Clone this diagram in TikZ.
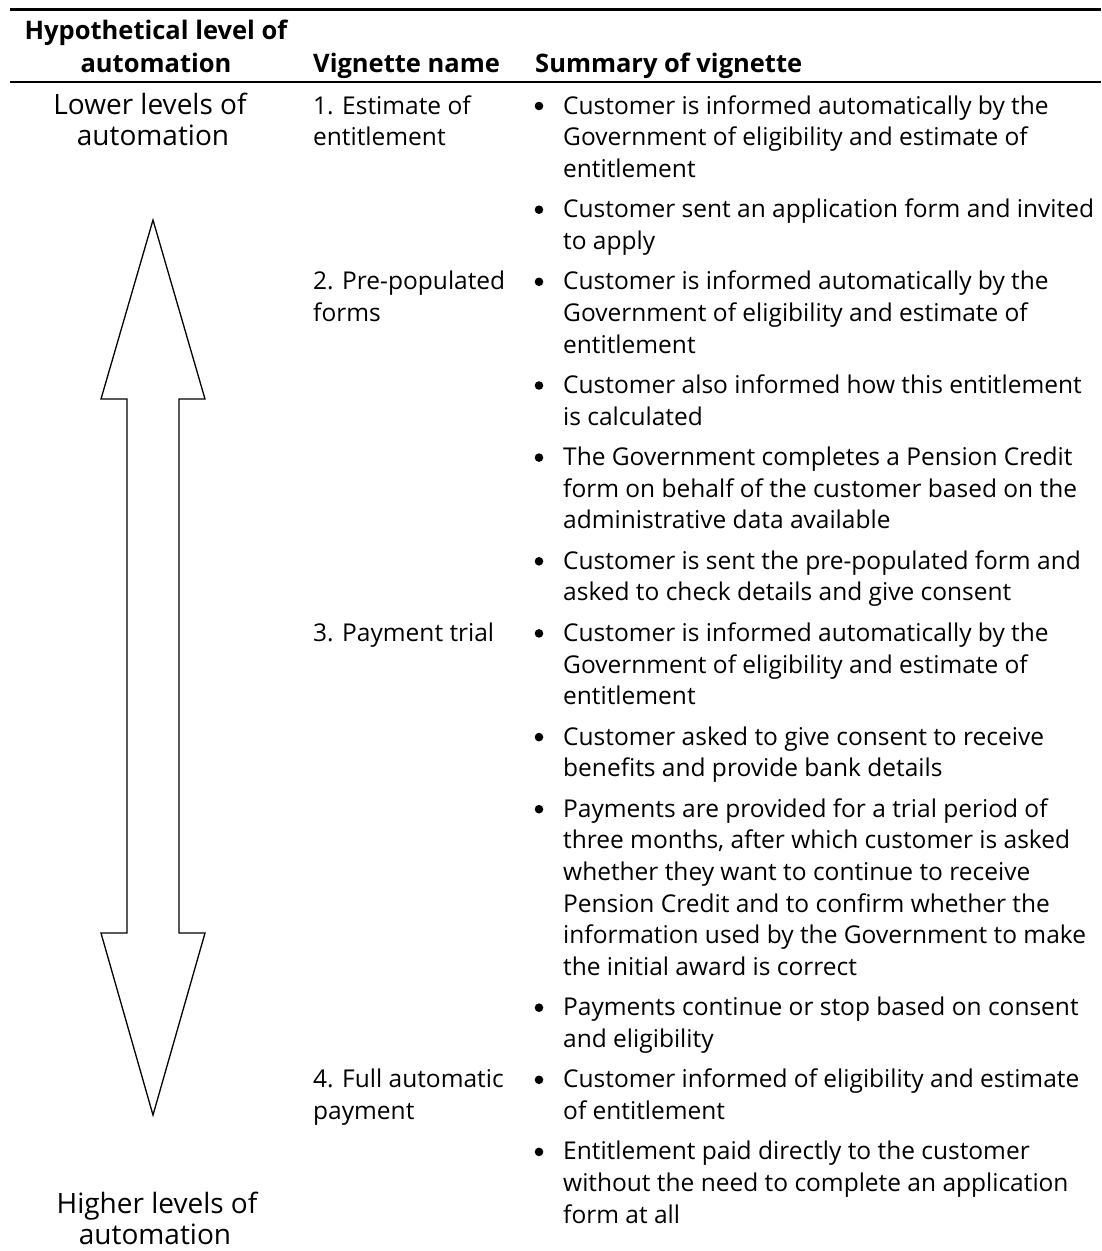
\documentclass[tikz,border=0pt]{standalone}
\usepackage{fontspec}
\setmainfont{Open Sans}
\begin{document}
\begin{tikzpicture}[x=1pt,y=-1pt,
  txt/.style={anchor=base west,inner sep=0pt,font=\fontsize{24.5}{30}\selectfont},
  ctr/.style={anchor=base,inner sep=0pt,font=\fontsize{28}{32}\selectfont},
  hdr/.style={anchor=base west,inner sep=0pt,font=\fontsize{25.5}{30}\selectfont\bfseries},
  hdrc/.style={anchor=base,inner sep=0pt,font=\fontsize{25.5}{30}\selectfont\bfseries},
  dot/.style={fill=black}]
\useasboundingbox (0,0) rectangle (1101,1251);
% rules
\coordinate (t1) at (10,9.5); \coordinate (t2) at (1101,9.5);
\coordinate (h1) at (10,82); \coordinate (h2) at (1101,82);
\draw[line width=3pt] (t1) -- (t2);
\draw[line width=1.3pt] (h1) -- (h2);
% header
\node[hdrc] (hA1) at (156,39) {Hypothetical level of};
\node[hdrc] (hA2) at (156,72) {automation};
\node[hdr] (hB) at (313,72) {Vignette name};
\node[hdr] (hC) at (535,72) {Summary of vignette};
% left column
\node[ctr] (lo1) at (150,114) {Lower levels of};
\node[ctr] (lo2) at (153,145.6) {automation};
\node[ctr] (hi1) at (157,1213) {Higher levels of};
\node[ctr] (hi2) at (155,1244) {automation};
% arrow
\draw[line width=1.3pt,line join=miter] (153,220) -- (205,399) -- (179,399) -- (179,933) -- (205,933)
  -- (153,1115) -- (101,933) -- (127,933) -- (127,399) -- (101,399) -- cycle;
% vignette names
\node[txt] (v1a) at (313,114) {1. Estimate of};
\node[txt] (v1b) at (313,145.6) {entitlement};
\node[txt] (v2a) at (313,289.8) {2. Pre-populated};
\node[txt] (v2b) at (313,321.4) {forms};
\node[txt] (v3a) at (313,641.4) {3. Payment trial};
\node[txt] (v4a) at (313,1087.8) {4. Full automatic};
\node[txt] (v4b) at (313,1119.4) {payment};
% bullets
\foreach \y in {114,217.7,289.8,393.5,465.6,569.3,641.4,745.1,817.2,1015.7,1087.8,1159.9}
  \fill[dot] (539,\y-8) circle (4.3);
% summary lines
\node[txt] (s01) at (563,114) {Customer is informed automatically by the};
\node[txt] (s02) at (563,145.6) {Government of eligibility and estimate of};
\node[txt] (s03) at (563,177.2) {entitlement};
\node[txt] (s04) at (563,217.7) {Customer sent an application form and invited};
\node[txt] (s05) at (563,249.3) {to apply};
\node[txt] (s06) at (563,289.8) {Customer is informed automatically by the};
\node[txt] (s07) at (563,321.4) {Government of eligibility and estimate of};
\node[txt] (s08) at (563,353.0) {entitlement};
\node[txt] (s09) at (563,393.5) {Customer also informed how this entitlement};
\node[txt] (s10) at (563,425.1) {is calculated};
\node[txt] (s11) at (563,465.6) {The Government completes a Pension Credit};
\node[txt] (s12) at (563,497.2) {form on behalf of the customer based on the};
\node[txt] (s13) at (563,528.8) {administrative data available};
\node[txt] (s14) at (563,569.3) {Customer is sent the pre-populated form and};
\node[txt] (s15) at (563,600.9) {asked to check details and give consent};
\node[txt] (s16) at (563,641.4) {Customer is informed automatically by the};
\node[txt] (s17) at (563,673.0) {Government of eligibility and estimate of};
\node[txt] (s18) at (563,704.6) {entitlement};
\node[txt] (s19) at (563,745.1) {Customer asked to give consent to receive};
\node[txt] (s20) at (563,776.7) {benefits and provide bank details};
\node[txt] (s21) at (563,817.2) {Payments are provided for a trial period of};
\node[txt] (s22) at (563,848.8) {three months, after which customer is asked};
\node[txt] (s23) at (563,880.4) {whether they want to continue to receive};
\node[txt] (s24) at (563,912.0) {Pension Credit and to confirm whether the};
\node[txt] (s25) at (563,943.6) {information used by the Government to make};
\node[txt] (s26) at (563,975.2) {the initial award is correct};
\node[txt] (s27) at (563,1015.7) {Payments continue or stop based on consent};
\node[txt] (s28) at (563,1047.3) {and eligibility};
\node[txt] (s29) at (563,1087.8) {Customer informed of eligibility and estimate};
\node[txt] (s30) at (563,1119.4) {of entitlement};
\node[txt] (s31) at (563,1159.9) {Entitlement paid directly to the customer};
\node[txt] (s32) at (563,1191.5) {without the need to complete an application};
\node[txt] (s33) at (563,1223.1) {form at all};
\end{tikzpicture}
\end{document}
